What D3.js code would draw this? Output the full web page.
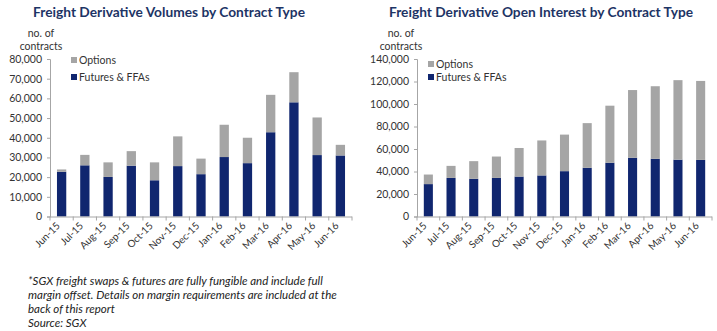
<!DOCTYPE html>
<html>
<head>
<meta charset="utf-8">
<script src="https://cdn.jsdelivr.net/npm/d3@7"></script>
<style>
  html, body { margin: 0; padding: 0; background: #fff; }
  svg { display: block; }
</style>
</head>
<body>
<svg id="chart" width="717" height="331"></svg>
<script>
// ---- Data ----
const months = ["Jun-15","Jul-15","Aug-15","Sep-15","Oct-15","Nov-15","Dec-15","Jan-16","Feb-16","Mar-16","Apr-16","May-16","Jun-16"];
const seriesNames = ["Options", "Futures & FFAs"];

// Volumes chart
const volFutures = [22700, 26000, 20100, 25800, 18400, 25600, 21500, 30200, 27100, 42800, 58000, 31200, 31000];
const volOptions = [1200, 5300, 7400, 7400, 9100, 15100, 7900, 16400, 12900, 19000, 15300, 19100, 5400];
const volTicks = [0, 10000, 20000, 30000, 40000, 50000, 60000, 70000, 80000];

// Open interest chart
const oiFutures = [28800, 34300, 33500, 34300, 35500, 36500, 40300, 43300, 47800, 52200, 51300, 50500, 50300];
const oiOptions = [8500, 10700, 15700, 19000, 25400, 31100, 32500, 39700, 50700, 60200, 64500, 70700, 70200];
const oiTicks = [0, 20000, 40000, 60000, 80000, 100000, 120000, 140000];

const titles = ["Freight Derivative Volumes by Contract Type", "Freight Derivative Open Interest by Contract Type"];
const yUnitLines = ["no. of", "contracts"];
const footnoteLines = [
  "*SGX freight swaps & futures are fully fungible and include full",
  "margin offset. Details on margin requirements are included at the",
  "back of this report",
  "Source: SGX"
];

// ---- Styles ----
const COLORS = { "Options": "#a5a5a5", "Futures & FFAs": "#10266f" };
const TITLE_COLOR = "#1d3465";
const TEXT_COLOR = "#333333";
const AXIS_COLOR = "#a6a6a6";
const FONT = "Lato, 'Open Sans', sans-serif";

const svg = d3.select("#chart");

function drawChart(cfg) {
  const g = svg.append("g");
  const x = d3.scaleBand().domain(months).range([cfg.x0, cfg.x1]).paddingInner(0.6).paddingOuter(0.3);
  const y = d3.scaleLinear().domain([0, cfg.ymax]).range([cfg.y0, cfg.y1]);

  const rows = months.map((m, i) => ({ month: m, "Futures & FFAs": cfg.futures[i], "Options": cfg.options[i] }));
  const stacked = d3.stack().keys(["Futures & FFAs", "Options"])(rows);

  // bars
  g.selectAll("g.series").data(stacked).join("g")
    .attr("fill", d => COLORS[d.key])
    .selectAll("rect").data(d => d).join("rect")
    .attr("x", d => x(d.data.month))
    .attr("width", x.bandwidth())
    .attr("y", d => y(d[1]))
    .attr("height", d => y(d[0]) - y(d[1]));

  // y axis
  const yAxis = g.append("g").attr("transform", `translate(${cfg.x0},0)`)
    .call(d3.axisLeft(y).tickValues(cfg.ticks).tickFormat(d3.format(",")).tickSizeOuter(0).tickSize(3).tickPadding(5));
  yAxis.select(".domain").attr("stroke", AXIS_COLOR);
  yAxis.selectAll(".tick line").attr("stroke", AXIS_COLOR);
  yAxis.selectAll("text").attr("fill", TEXT_COLOR).style("font-family", FONT).style("font-size", "10.5px");

  // x axis: line + ticks at band boundaries
  const step = x.step();
  const xa = g.append("g").attr("transform", `translate(0,${cfg.y0})`)
    .call(d3.axisBottom(x).tickSize(0).tickSizeOuter(0).tickPadding(0));
  xa.select(".domain").attr("stroke", AXIS_COLOR).attr("d", `M${cfg.x0},0.5H${cfg.x1}`);
  const bounds = d3.range(months.length + 1).map(i => cfg.x0 + i * step);
  xa.selectAll("line.bound").data(bounds).join("line").attr("class", "bound")
    .attr("x1", d => d).attr("x2", d => d).attr("y1", 0).attr("y2", 4)
    .attr("stroke", AXIS_COLOR);
  xa.selectAll(".tick text")
    .attr("fill", TEXT_COLOR)
    .style("font-family", FONT).style("font-size", "10px")
    .attr("text-anchor", "end")
    .attr("dy", 0)
    .attr("transform", "translate(-1,10) rotate(-45)");

  // title
  svg.append("text").attr("x", cfg.titleX).attr("y", 17).attr("text-anchor", "middle")
    .attr("fill", TITLE_COLOR).style("font-family", FONT).style("font-weight", "bold").style("font-size", "14px")
    .attr("textLength", cfg.titleW).attr("lengthAdjust", "spacingAndGlyphs")
    .text(cfg.title);

  // unit label
  svg.append("g").selectAll("text").data(yUnitLines).join("text")
    .attr("x", cfg.unitX).attr("y", (d, i) => 37 + i * 13).attr("text-anchor", "middle")
    .attr("fill", TEXT_COLOR).style("font-family", FONT).style("font-size", "10.5px")
    .text(d => d);

  // legend
  const lg = svg.append("g").selectAll("g").data(seriesNames).join("g")
    .attr("transform", (d, i) => `translate(${cfg.legX},${cfg.legY[i]})`);
  lg.append("rect").attr("x", 0).attr("y", -3).attr("width", 6).attr("height", 6).attr("fill", d => COLORS[d]);
  lg.append("text").attr("x", 8).attr("y", 3.5).attr("fill", TEXT_COLOR)
    .style("font-family", FONT).style("font-size", "10.5px").text(d => d);
}

drawChart({
  x0: 50, x1: 352, y0: 216.5, y1: 59, ymax: 80000, ticks: volTicks,
  futures: volFutures, options: volOptions,
  title: titles[0], titleX: 169, titleW: 272, unitX: 41, legX: 71, legY: [60, 77]
});
drawChart({
  x0: 417, x1: 712, y0: 216.5, y1: 59, ymax: 140000, ticks: oiTicks,
  futures: oiFutures, options: oiOptions,
  title: titles[1], titleX: 541, titleW: 304, unitX: 401, legX: 428, legY: [64, 77]
});

// footnote
svg.append("g").selectAll("text").data(footnoteLines).join("text")
  .attr("x", 28).attr("y", (d, i) => 285 + i * 14)
  .attr("fill", "#222").style("font-family", FONT).style("font-style", "italic").style("font-size", "11.5px")
  .text(d => d);
</script>
</body>
</html>
